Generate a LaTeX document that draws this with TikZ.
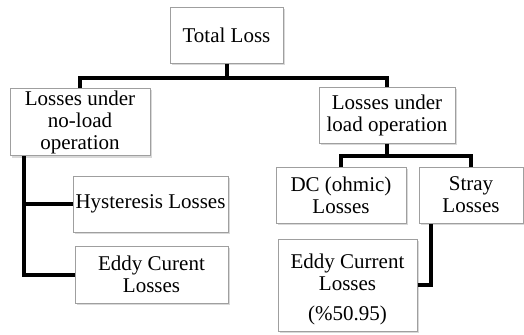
\documentclass[tikz,border=0pt]{standalone}
\usepackage{fontspec}
\setmainfont{Liberation Serif}
\usetikzlibrary{shadows}

\begin{document}
\begin{tikzpicture}[x=0.5pt, y=-0.5pt,
  lossbox/.style={draw=gray!75, line width=0.5pt, fill=white, align=center, inner sep=1pt,
    font=\fontsize{10.5pt}{11pt}\selectfont,
    drop shadow={shadow xshift=0.8pt, shadow yshift=-1pt, opacity=0.3}},
  link/.style={line width=2pt}]
\useasboundingbox (0, 0) rectangle (524, 334);

\node (total) at (226.5, 35) [lossbox, minimum width=56.5pt, minimum height=28pt] {Total Loss};
\node (noload) at (80, 122) [lossbox, minimum width=70pt, minimum height=33pt] {Losses under\\no-load\\operation};
\node (load) at (387, 115) [lossbox, minimum width=68pt, minimum height=28pt] {Losses under\\load operation};
\node (hyst) at (150.5, 204) [lossbox, minimum width=77.5pt, minimum height=28pt] {Hysteresis Losses};
\node (eddyl) at (151.5, 274.5) [lossbox, minimum width=76.5pt, minimum height=28.5pt] {Eddy Curent\\Losses};
\node (dc) at (341, 195) [lossbox, minimum width=65pt, minimum height=28pt] {DC (ohmic)\\Losses};
\node (stray) at (471, 195) [lossbox, minimum width=52pt, minimum height=28pt] {Stray\\Losses};
\node (eddyr) at (347.5, 285) [lossbox, minimum width=69.5pt, minimum height=46pt] {\rule{0pt}{12pt}Eddy Current\\Losses\\[4pt](\%50.95)};

% total loss split
\draw [link] (total.south) -- ++(0, 14) coordinate (tj) -| (noload.north);
\draw [link] (tj) -| (load.north);
% load operation split
\draw [link] (load.south) -- ++(0, 12) coordinate (lj) -| (dc.north);
\draw [link] (lj) -| (stray.north);
\draw [link] (eddyr.east) -| ([xshift=6pt]stray.south west);
% no-load operation
\draw [link] ([xshift=7pt]noload.south west) |- (hyst.west);
\draw [link] ([xshift=7pt]noload.south west) |- (eddyl.west);
\end{tikzpicture}
\end{document}
